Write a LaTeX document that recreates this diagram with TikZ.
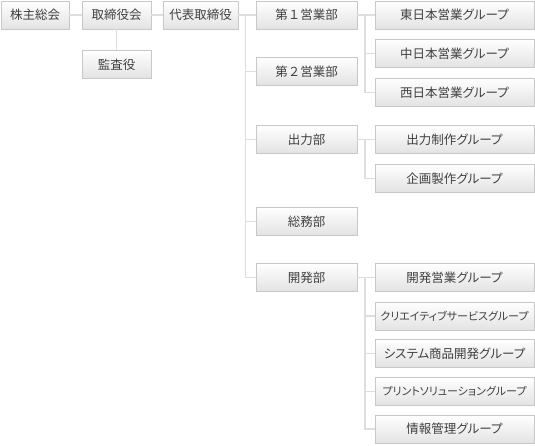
\documentclass[tikz,border=0pt]{standalone}
\usepackage{fontspec}
\setmainfont{Noto Sans CJK JP}
\newfontfamily\jpp[RawFeature=+palt]{Noto Sans CJK JP}
\definecolor{boxline}{HTML}{C8C8C8}
\definecolor{conn}{HTML}{DEDEDE}
\definecolor{txt}{HTML}{404040}
\begin{document}
\begin{tikzpicture}[x=1pt,y=-1pt,
  orgbox/.style={draw=boxline, line width=0.9pt, top color=white, bottom color=black!11,
    inner sep=0pt, minimum height=28pt, text=txt, font=\fontsize{12.5}{14}\selectfont},
  topbox/.style={orgbox},
  deptbox/.style={orgbox, minimum width=101pt},
  grpbox/.style={orgbox, minimum width=159pt, font=\jpp\fontsize{12.5}{14}\selectfont},
  smallgrp/.style={grpbox, font=\jpp\fontsize{11}{13}\selectfont},
  link/.style={draw=conn, line width=1.6pt}]
\useasboundingbox (0,0) rectangle (535,445);
% top row
\node[topbox, minimum width=68pt] (kabu) at (35,15) {株主総会};
\node[topbox, minimum width=69pt] (tori) at (116.5,15) {取締役会};
\node[topbox, minimum width=69pt] (kansa) at (116.5,64.5) {監査役};
\node[topbox, minimum width=75pt] (daihyo) at (200.5,15) {代表取締役};
% departments
\node[deptbox] (d1) at (306.5,15) {第１営業部};
\node[deptbox] (d2) at (306.5,71.5) {第２営業部};
\node[deptbox] (d3) at (306.5,139.5) {出力部};
\node[deptbox] (d4) at (306.5,221.5) {総務部};
\node[deptbox] (d5) at (306.5,277.5) {開発部};
% groups
\node[grpbox] (g1) at (454.5,15) {東日本営業グループ};
\node[grpbox] (g2) at (454.5,53.5) {中日本営業グループ};
\node[grpbox] (g3) at (454.5,92.5) {西日本営業グループ};
\node[grpbox] (g4) at (454.5,139.5) {出力制作グループ};
\node[grpbox] (g5) at (454.5,178.5) {企画製作グループ};
\node[grpbox] (g6) at (454.5,277.5) {開発営業グループ};
\node[smallgrp] (g7) at (454.5,316) {クリエイティブサービスグループ};
\node[grpbox] (g8) at (454.5,353.5) {システム商品開発グループ};
\node[smallgrp] (g9) at (454.5,391.5) {プリントソリューショングループ};
\node[grpbox] (g10) at (454.5,429) {情報管理グループ};
% junction points
\coordinate (t1) at (245.5,15);
\coordinate (s1) at (365,15);
\coordinate (s3) at (365,139.5);
\coordinate (s5) at (365,277.5);
% connectors
\path[link] (kabu) -- (tori);
\path[link] (tori) -- (kansa);
\path[link] (tori) -- (daihyo);
\path[link] (daihyo) -- (t1);
\path[link] (t1) |- (d1.west);
\path[link] (t1) |- (d2.west);
\path[link] (t1) |- (d3.west);
\path[link] (t1) |- (d4.west);
\path[link] (t1) |- (d5.west);
\path[link] (d1) -- (g1);
\path[link] (s1) |- (g2.west);
\path[link] (s1) |- (g3.west);
\path[link] (d3) -- (g4);
\path[link] (s3) |- (g5.west);
\path[link] (d5) -- (g6);
\path[link] (s5) |- (g7.west);
\path[link] (s5) |- (g8.west);
\path[link] (s5) |- (g9.west);
\path[link] (s5) |- (g10.west);
\end{tikzpicture}
\end{document}
